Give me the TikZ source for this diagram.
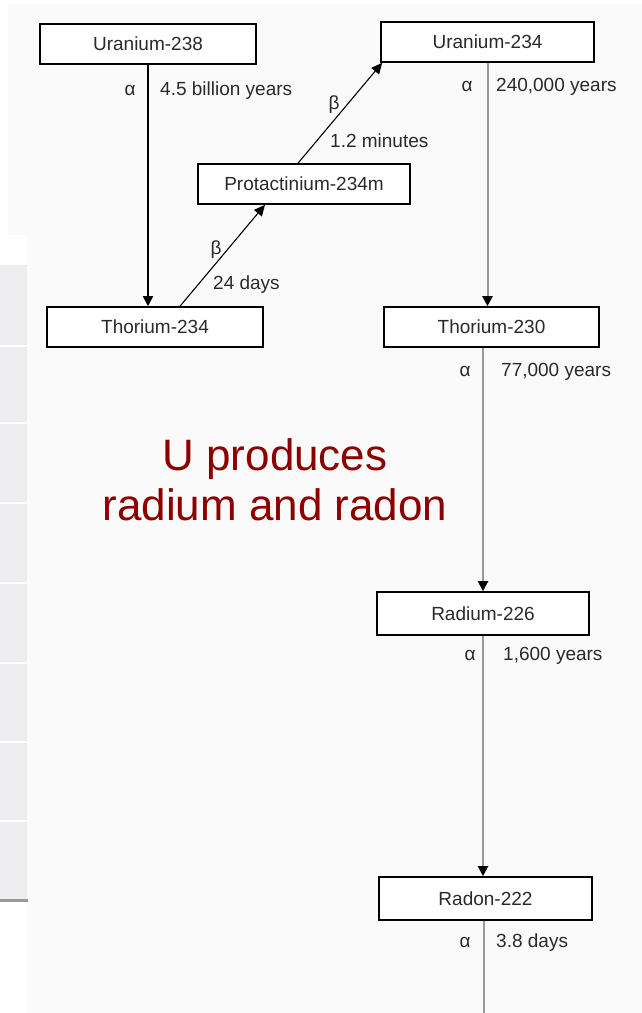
\documentclass[tikz,border=0pt]{standalone}
\usepackage{fontspec}
\setmainfont{Liberation Sans}
\usetikzlibrary{arrows.meta}
\definecolor{bgc}{HTML}{FAFAFA}
\definecolor{stripc}{HTML}{EDEDEF}
\definecolor{txtc}{HTML}{2A2A2A}
\definecolor{linegray}{HTML}{999999}
\definecolor{redtxt}{HTML}{8C0000}
\tikzset{
  isotope/.style={draw=black, line width=1.6pt, fill=white, minimum height=40pt, inner sep=0pt,
    font=\fontsize{19}{22}\selectfont, text=txtc},
  lbl/.style={font=\fontsize{19}{22}\selectfont, text=txtc, inner sep=0pt},
  decayblack/.style={draw=black, line width=1.8pt, -{Triangle[length=10pt,width=10pt]}},
  decaygray/.style={draw=linegray, line width=2pt, -{Triangle[length=10pt,width=10pt,fill=black,color=black]}},
  decaydiag/.style={draw=black, line width=1.1pt, -{Triangle[length=11pt,width=10pt]}},
  bigred/.style={font=\fontsize{44}{50}\selectfont, text=redtxt, inner sep=0pt}
}
\begin{document}
\begin{tikzpicture}[x=1pt,y=-1pt]
\useasboundingbox (0,0) rectangle (642,1013);
% background
\fill[bgc] (0,0) rectangle (642,1013);
\fill[white] (0,0) rectangle (642,4);
\fill[white] (0,0) rectangle (8,265);
\fill[white] (0,235) rectangle (27,265);
\fill[stripc] (0,265) rectangle (27,900);
\foreach \yy in {346,423,503,583,663,742,821}{\fill[white] (0,\yy-1) rectangle (27,\yy+1);}
\fill[linegray] (0,899) rectangle (28,901.5);
\fill[white] (0,901.5) rectangle (27,1013);

% nodes
\node[isotope, minimum width=216pt] (U238) at (148,44) {Uranium-238};
\node[isotope, minimum width=213pt] (U234) at (487.5,42) {Uranium-234};
\node[isotope, minimum width=212pt] (Pa) at (304,184) {Protactinium-234m};
\node[isotope, minimum width=216pt] (Th234) at (155,327) {Thorium-234};
\node[isotope, minimum width=215pt] (Th230) at (491.5,327) {Thorium-230};
\node[isotope, minimum width=212pt, minimum height=43pt] (Ra) at (483,613.5) {Radium-226};
\node[isotope, minimum width=213pt, minimum height=43pt] (Rn) at (485.5,898.5) {Radon-222};
\coordinate (end) at (485.5,1013);

% connectors
\draw[decayblack] (U238.south) -- (U238.south |- Th234.north);
\draw[decaydiag] ([xshift=25pt]Th234.north) -- ([xshift=-39pt]Pa.south);
\draw[decaydiag] ([xshift=-6pt]Pa.north) -- ([xshift=2pt]U234.south west);
\draw[decaygray] (U234.south) -- (U234.south |- Th230.north);
\draw[decaygray] (Ra.north |- Th230.south) -- (Ra.north);
\draw[decaygray] (Ra.south) -- (Ra.south |- Rn.north);
\draw[linegray, line width=2pt] ([xshift=-1.5pt]Rn.south) -- ([xshift=-1.5pt]end);

% labels
\node[lbl, anchor=base] (a1) at (130,95) {α};
\node[lbl, anchor=base west] (t1) at (160,95) {4.5 billion years};
\node[lbl, anchor=base] (b1) at (216,254) {β};
\node[lbl, anchor=base west] (t2) at (213,289) {24 days};
\node[lbl, anchor=base] (b2) at (334,109) {β};
\node[lbl, anchor=base west] (t3) at (330,147) {1.2 minutes};
\node[lbl, anchor=base] (a2) at (467,91) {α};
\node[lbl, anchor=base west] (t4) at (496,91) {240,000 years};
\node[lbl, anchor=base] (a3) at (465,376) {α};
\node[lbl, anchor=base west] (t5) at (501,376) {77,000 years};
\node[lbl, anchor=base] (a4) at (470,660) {α};
\node[lbl, anchor=base west] (t6) at (503,660) {1,600 years};
\node[lbl, anchor=base] (a5) at (465,947) {α};
\node[lbl, anchor=base west] (t7) at (496,947) {3.8 days};

% title
\node[bigred, anchor=base] (title1) at (275,470) {U produces};
\node[bigred, anchor=base] (title2) at (275,520) {radium and radon};
\end{tikzpicture}
\end{document}
